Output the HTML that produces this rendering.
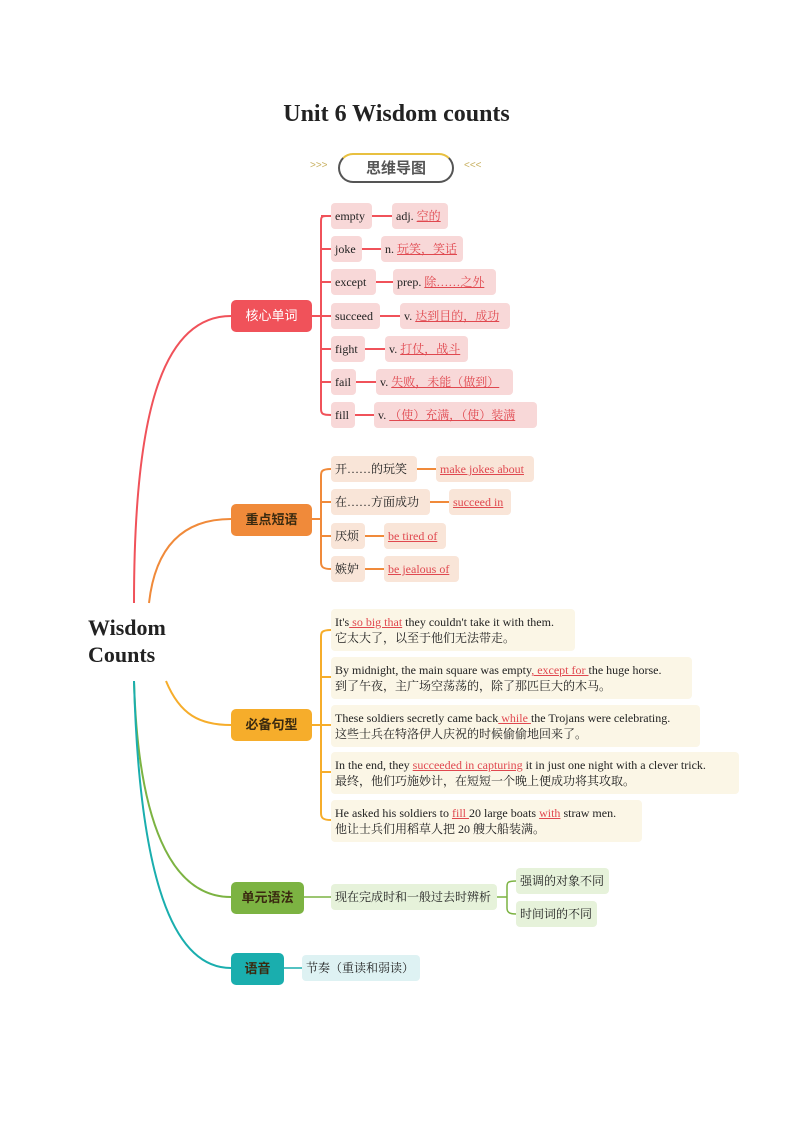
<!DOCTYPE html>
<html><head><meta charset="utf-8"><style>
body{margin:0;background:#fff;}
#p{position:relative;width:793px;height:1122px;overflow:hidden;font-family:"Liberation Serif","Noto Serif CJK SC",serif;color:#222;}
.a{position:absolute;box-sizing:border-box;white-space:nowrap;}
.b{position:absolute;box-sizing:border-box;white-space:nowrap;border-radius:4px;font-size:12px;line-height:26px;padding:0 0 0 4px;height:26px;}
.r{background:#f8d8d8}.o{background:#f9e5d8}.y{background:#fbf6e6}.g{background:#e6f2da}.t{background:#def2f3}
.u{color:#e0484f;text-decoration:underline;}
.L{position:absolute;box-sizing:border-box;border-radius:5px;font-family:"Liberation Sans","Noto Sans CJK SC",sans-serif;font-size:13px;text-align:center;line-height:32px;height:32px;font-weight:bold;color:#3a2a10;}
.s{position:absolute;box-sizing:border-box;white-space:nowrap;border-radius:4px;background:#fbf6e6;font-size:12px;line-height:16px;padding:5px 0 0 4px;height:42px;}
</style></head><body><div id="p">
<div class="a" style="left:0;width:793px;top:101px;text-align:center;font-size:24px;font-weight:bold;">Unit 6 Wisdom counts</div>
<div class="a" style="left:338px;top:153px;width:116px;height:30px;border:2px solid #555;border-top-color:#e8c040;border-radius:15px;text-align:center;font-family:'Noto Sans CJK SC',sans-serif;font-weight:bold;font-size:15px;line-height:26px;color:#555;">思维导图</div>
<div class="a" style="left:310px;top:160px;font-size:10px;color:#c8b060;font-family:'Liberation Sans',sans-serif;">&gt;&gt;&gt;</div>
<div class="a" style="left:464px;top:160px;font-size:10px;color:#c8b060;font-family:'Liberation Sans',sans-serif;">&lt;&lt;&lt;</div>

<svg class="a" style="left:0;top:0" width="793" height="1122" fill="none" stroke-width="2">
<path d="M134 603 C134 420 160 316 231 316" stroke="#f0525a"/>
<path d="M149 603 C155 550 180 519 231 519" stroke="#f08a3a"/>
<path d="M166 681 C180 715 200 725 231 725" stroke="#f6ad2b"/>
<path d="M134 681 C138 820 170 897 231 897" stroke="#7cb342"/>
<path d="M134 681 C140 900 180 968 231 968" stroke="#1aaeae"/>
<g stroke="#f0525a"><path d="M312 316H321M326 216C321 216 321 218 321 222V409C321 414 323 415 331 415"/>
<path d="M321 216H331M321 249H331M321 282H331M321 316H331M321 349H331M321 382H331"/>
<path d="M372 216H392M362 249H381M376 282H393M380 316H400M365 349H385M356 382H376M355 415H374"/></g>
<g stroke="#f08a3a"><path d="M312 519H321M331 469C321 469 321 472 321 476V562C321 567 323 569 331 569M321 502H331M321 536H331"/>
<path d="M417 469H436M430 502H449M365 536H384M365 569H388"/></g>
<g stroke="#f6ad2b"><path d="M312 725H321M331 630C321 630 321 633 321 637V813C321 818 323 820 331 820M321 677H331M321 725H331M321 772H331"/></g>
<g stroke="#7cb342" stroke-width="1.5"><path d="M304 897H331M497 897H507M516 881C507 881 507 883 507 887V908C507 912 509 914 516 914"/></g>
<path d="M284 968H302" stroke="#1aaeae" stroke-width="1.5"/>
</svg>

<div class="a" style="left:88px;top:614px;font-size:22px;font-weight:bold;line-height:27px;">Wisdom<br>Counts</div>

<div class="L" style="left:231px;top:300px;width:81px;background:#f0525a;color:#fff;font-weight:normal;">核心单词</div>
<div class="L" style="left:231px;top:504px;width:81px;background:#f08a3a;">重点短语</div>
<div class="L" style="left:231px;top:709px;width:81px;background:#f6ad2b;">必备句型</div>
<div class="L" style="left:231px;top:882px;width:73px;background:#7cb342;">单元语法</div>
<div class="L" style="left:231px;top:953px;width:53px;background:#1aaeae;">语音</div>

<div class="b r" style="left:331px;top:203px;width:41px">empty</div>
<div class="b r" style="left:392px;top:203px;width:56px">adj. <span class="u">空的</span></div>
<div class="b r" style="left:331px;top:236px;width:31px">joke</div>
<div class="b r" style="left:381px;top:236px;width:82px">n. <span class="u">玩笑，笑话</span></div>
<div class="b r" style="left:331px;top:269px;width:45px">except</div>
<div class="b r" style="left:393px;top:269px;width:103px">prep. <span class="u">除……之外</span></div>
<div class="b r" style="left:331px;top:303px;width:49px">succeed</div>
<div class="b r" style="left:400px;top:303px;width:110px">v. <span class="u">达到目的，成功</span></div>
<div class="b r" style="left:331px;top:336px;width:34px">fight</div>
<div class="b r" style="left:385px;top:336px;width:83px">v. <span class="u">打仗，战斗</span></div>
<div class="b r" style="left:331px;top:369px;width:25px">fail</div>
<div class="b r" style="left:376px;top:369px;width:137px">v. <span class="u">失败，未能（做到）</span></div>
<div class="b r" style="left:331px;top:402px;width:24px">fill</div>
<div class="b r" style="left:374px;top:402px;width:163px">v. <span class="u">（使）充满，（使）装满</span></div>

<div class="b o" style="left:331px;top:456px;width:86px">开……的玩笑</div>
<div class="b o" style="left:436px;top:456px;width:98px"><span class="u">make jokes about</span></div>
<div class="b o" style="left:331px;top:489px;width:99px">在……方面成功</div>
<div class="b o" style="left:449px;top:489px;width:62px"><span class="u">succeed in</span></div>
<div class="b o" style="left:331px;top:523px;width:34px">厌烦</div>
<div class="b o" style="left:384px;top:523px;width:62px"><span class="u">be tired of</span></div>
<div class="b o" style="left:331px;top:556px;width:34px">嫉妒</div>
<div class="b o" style="left:384px;top:556px;width:75px"><span class="u">be jealous of</span></div>

<div class="s" style="left:331px;top:609px;width:244px">It's<span class="u"> so big that</span> they couldn't take it with them.<br>它太大了，以至于他们无法带走。</div>
<div class="s" style="left:331px;top:657px;width:361px">By midnight, the main square was empty<span class="u">, except for </span>the huge horse.<br>到了午夜，主广场空荡荡的，除了那匹巨大的木马。</div>
<div class="s" style="left:331px;top:705px;width:369px">These soldiers secretly came back<span class="u"> while </span>the Trojans were celebrating.<br>这些士兵在特洛伊人庆祝的时候偷偷地回来了。</div>
<div class="s" style="left:331px;top:752px;width:408px">In the end, they <span class="u">succeeded in capturing</span> it in just one night with a clever trick.<br>最终，他们巧施妙计，在短短一个晚上便成功将其攻取。</div>
<div class="s" style="left:331px;top:800px;width:311px">He asked his soldiers to <span class="u">fill </span>20 large boats <span class="u">with</span> straw men.<br>他让士兵们用稻草人把 20 艘大船装满。</div>

<div class="b g" style="left:331px;top:884px;width:166px">现在完成时和一般过去时辨析</div>
<div class="b g" style="left:516px;top:868px;width:93px">强调的对象不同</div>
<div class="b g" style="left:516px;top:901px;width:81px">时间词的不同</div>
<div class="b t" style="left:302px;top:955px;width:118px">节奏（重读和弱读）</div>
</div></body></html>
